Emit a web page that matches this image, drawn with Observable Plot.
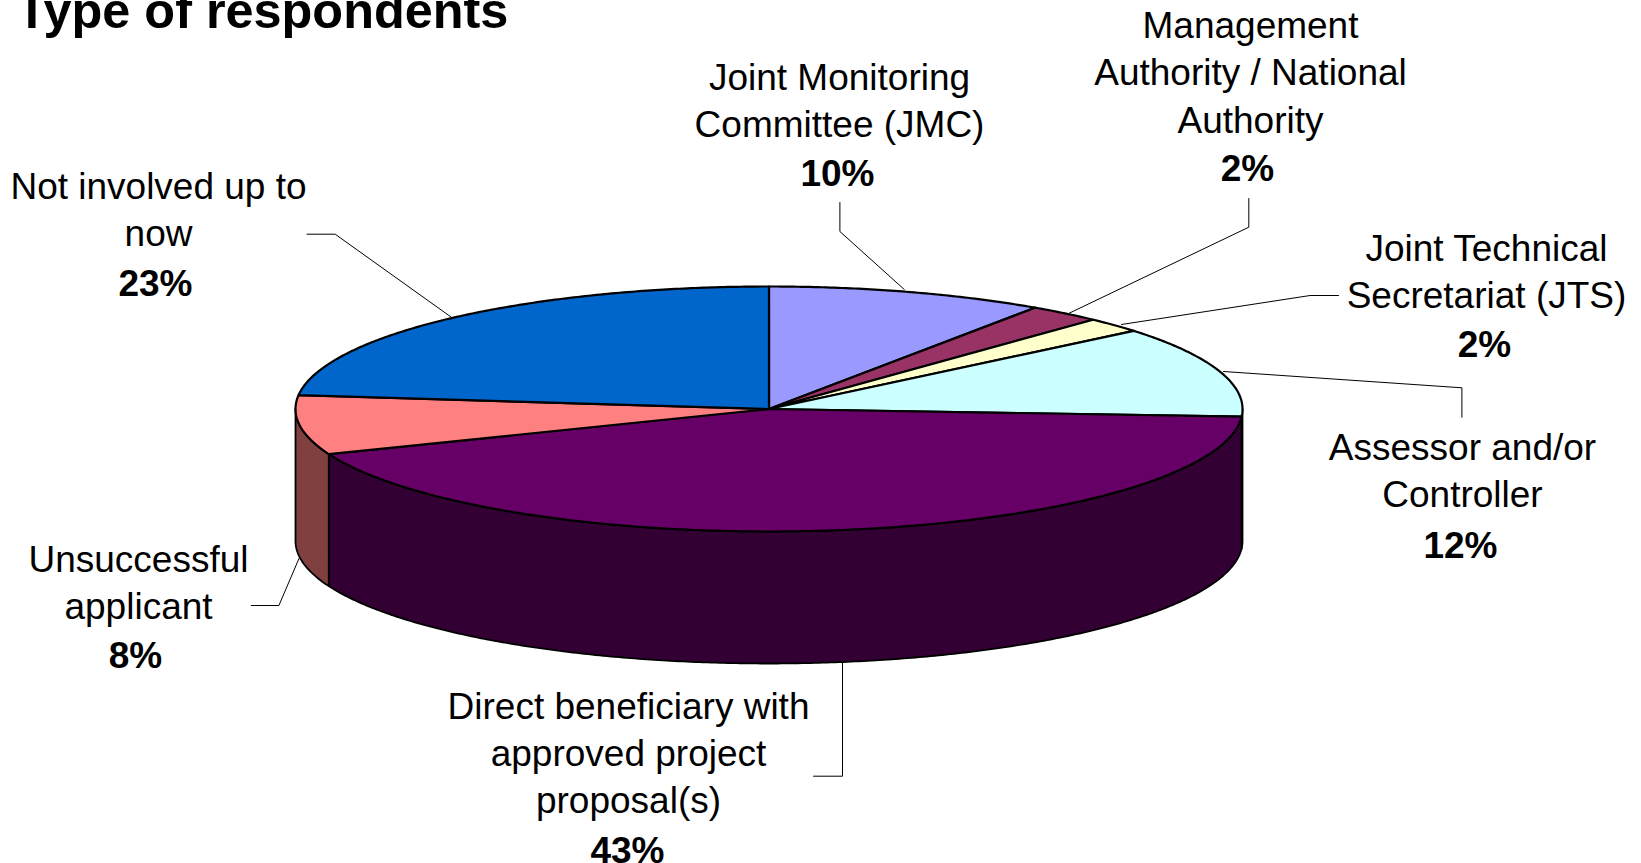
<!DOCTYPE html>
<html>
<head>
<meta charset="utf-8">
<script src="https://cdn.jsdelivr.net/npm/d3@7"></script>
<script src="https://cdn.jsdelivr.net/npm/@observablehq/plot@0.6"></script>
<style>
html,body{margin:0;padding:0;background:#fff;overflow:hidden}
svg{display:block}
</style>
</head>
<body>
<div id="chart"></div>
<script>
// Data, clockwise from 12 o'clock
const categories = ["Joint Monitoring Committee (JMC)", "Management Authority / National Authority", "Joint Technical Secretariat (JTS)", "Assessor and/or Controller", "Direct beneficiary with approved project proposal(s)", "Unsuccessful applicant", "Not involved up to now"];
const values = [9.5, 2.5, 2, 12, 43, 7.8, 23.2];
const topColors = ["#9999FF", "#993366", "#FFFFCC", "#CCFFFF", "#660066", "#FF8080", "#0066CC"];
const sideColors = ["#4D4D80", "#4D1A33", "#808066", "#668080", "#330033", "#804040", "#003366"];
const title = "Type of respondents";
const percentLabels = ["10%", "2%", "2%", "12%", "43%", "8%", "23%"];
const labelLines = [
  ["Joint Monitoring", "Committee (JMC)"],
  ["Management", "Authority / National", "Authority"],
  ["Joint Technical", "Secretariat (JTS)"],
  ["Assessor and/or", "Controller"],
  ["Direct beneficiary with", "approved project", "proposal(s)"],
  ["Unsuccessful", "applicant"],
  ["Not involved up to", "now"]
];

// Layout
const W = 1641, H = 863;
const pie = {cx: 768.5, cy: 408.5, rx: 473.5, ry: 122.5, depth: 132};
const fontSize = 37, titleSize = 50.4, lineStep = 47.4;
const labelPos = [ // centre x, first baseline
  [839, 89.5], [1250, 37.5], [1486, 260.5], [1462, 459.5], [628, 718], [138, 571], [158, 198.5]
];
const percentShift = [-2, -3, -2, -2, -1, -3, -3]; // bold value's centre relative to the label
const percentDrop = [1, 1, 1, 3, 2, 2, 2]; // bold value's extra drop below the label
const leaderPaths = [
  [[839.4,202],[839.4,231],[903.8,289]],
  [[1248.3,198],[1248.3,226.7],[1068.7,312.7]],
  [[1338,295],[1309.6,295],[1121,324]],
  [[1461.4,416.7],[1461.4,387.3],[1223,371]],
  [[813,775.7],[842,775.7],[842,661.7]],
  [[250.8,605],[278.4,605],[298.5,558]],
  [[306.5,233.7],[334.7,233.7],[450.8,316.7]]
];

const total = d3.sum(values);
const ends = d3.cumsum(values).map(v => v / total * 360);
const starts = ends.map((e, i) => i ? ends[i - 1] : 0);
const pt = (deg, dz = 0) => {
  const a = deg * Math.PI / 180;
  return {x: pie.cx + pie.rx * Math.sin(a), y: pie.cy - pie.ry * Math.cos(a) + dz};
};
const arc = (a0, a1, dz = 0) => {
  const n = Math.max(2, Math.ceil((a1 - a0) / 0.5));
  return d3.range(n + 1).map(i => pt(a0 + (a1 - a0) * i / n, dz));
};
const topPoly = values.map((_, i) => {
  const c = {x: pie.cx, y: pie.cy};
  return [c, ...arc(starts[i], ends[i]), c];
});
const wallPolys = values.map((_, i) => {
  const a0 = Math.max(starts[i], 90), a1 = Math.min(ends[i], 270);
  if (a1 <= a0) return null;
  const upper = arc(a0, a1), lower = arc(a0, a1, pie.depth).reverse();
  return {i, pts: [...upper, ...lower, upper[0]]};
}).filter(Boolean);

const normalText = [], boldText = [];
labelLines.forEach((lines, i) => {
  const [x, y0] = labelPos[i];
  lines.forEach((t, k) => normalText.push({x, y: y0 + k * lineStep - 0.32 * fontSize, t}));
  boldText.push({x: x + percentShift[i], y: y0 + lines.length * lineStep + percentDrop[i] - 0.32 * fontSize, t: percentLabels[i]});
});

const font = "Liberation Sans, Arial, sans-serif";
const chart = Plot.plot({
  width: W, height: H,
  margin: 0,
  x: {domain: [0, W], range: [0, W], axis: null},
  y: {domain: [0, H], range: [0, H], axis: null},
  marks: [
    ...wallPolys.map(w => Plot.line(w.pts, {x: "x", y: "y", fill: sideColors[w.i], stroke: "#000", strokeWidth: 1.8, strokeLinejoin: "round"})),
    ...topPoly.map((p, i) => Plot.line(p, {x: "x", y: "y", fill: topColors[i], stroke: "#000", strokeWidth: 2.2, strokeLinejoin: "round"})),
    ...leaderPaths.map(p => Plot.line(p, {x: d => d[0], y: d => d[1], stroke: "#000", strokeWidth: 1})),
    Plot.text(normalText, {x: "x", y: "y", text: "t", fontSize, fontFamily: font, fill: "#000", textAnchor: "middle"}),
    Plot.text(boldText, {x: "x", y: "y", text: "t", fontSize, fontWeight: "bold", fontFamily: font, fill: "#000", textAnchor: "middle"}),
    Plot.text([title], {x: [16], y: [27.5 - 0.32 * titleSize], text: d => d, fontSize: titleSize, fontWeight: "bold", fontFamily: font, fill: "#000", textAnchor: "start"})
  ]
});
chart.style.background = "#fff";
chart.style.overflow = "hidden";
document.getElementById("chart").appendChild(chart);
</script>
</body>
</html>
